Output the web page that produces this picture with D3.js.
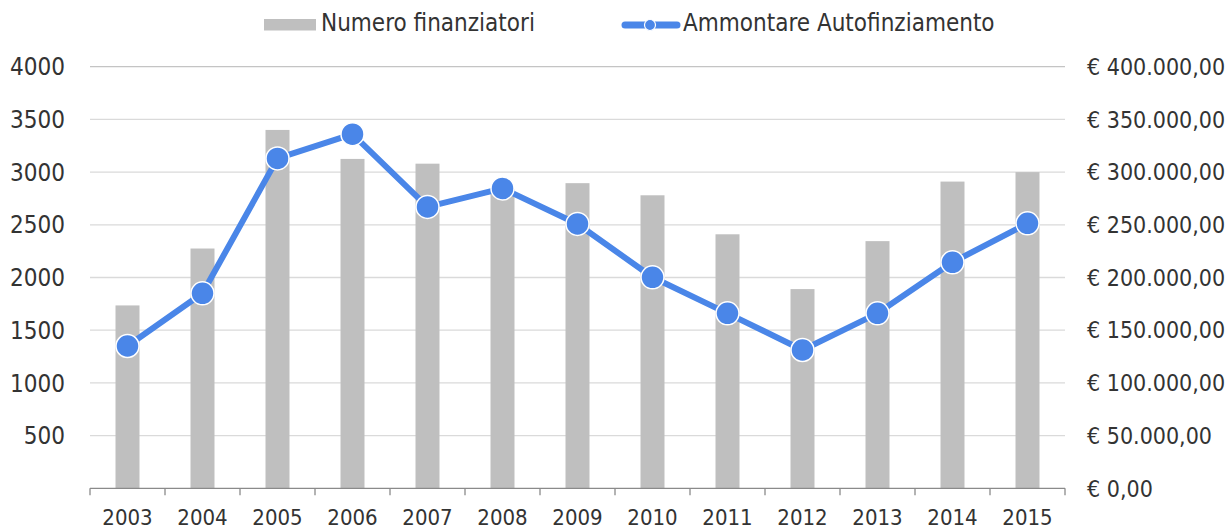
<!DOCTYPE html>
<html>
<head>
<meta charset="utf-8">
<script src="https://cdn.jsdelivr.net/npm/d3@7"></script>
<style>
  body { margin: 0; background: #fff; }
  svg text { font-family: "DejaVu Sans Condensed", "DejaVu Sans", sans-serif; font-stretch: condensed; fill: #333; }
</style>
</head>
<body>
<div id="chart"></div>
<script>
// data
const anni = ["2003", "2004", "2005", "2006", "2007", "2008", "2009", "2010", "2011", "2012", "2013", "2014", "2015"];
const finanziatori = [1735, 2275, 3400, 3125, 3080, 2840, 2895, 2780, 2410, 1890, 2345, 2910, 3000];
const autofinanziamento = [135000, 185000, 313000, 336000, 267000, 284500, 250800, 200200, 166000, 131200, 166000, 214400, 251400];
const leftTicks = [500, 1000, 1500, 2000, 2500, 3000, 3500, 4000];
const rightTicks = [0, 50000, 100000, 150000, 200000, 250000, 300000, 350000, 400000];

const W = 1226, H = 528;
const plotL = 90, plotR = 1065, plotT = 66.7, plotB = 488.3;

const svg = d3.select("#chart").append("svg")
    .attr("width", W)
    .attr("height", H);

const x = d3.scaleBand().domain(anni).range([plotL, plotR]).padding(0);
const yL = d3.scaleLinear().domain([0, 4000]).range([plotB, plotT]);
const yR = d3.scaleLinear().domain([0, 400000]).range([plotB, plotT]);

// euro format, italian style
const eur = d3.formatLocale({decimal: ",", thousands: ".", grouping: [3], currency: ["€ ", ""]}).format("$,.2f");

// gridlines
svg.append("g")
    .selectAll("line")
    .data(leftTicks)
    .join("line")
    .attr("x1", plotL)
    .attr("x2", plotR)
    .attr("y1", d => yL(d))
    .attr("y2", d => yL(d))
    .attr("stroke", d => d === 4000 ? "#c4c4c4" : "#dadada")
    .attr("stroke-width", 1.3);

// bars
const bw = 24;
svg.append("g")
    .selectAll("rect")
    .data(anni)
    .join("rect")
    .attr("x", d => x(d) + x.bandwidth() / 2 - bw / 2)
    .attr("y", (d, i) => yL(finanziatori[i]))
    .attr("width", bw)
    .attr("height", (d, i) => plotB - yL(finanziatori[i]))
    .attr("fill", "#bfbfbf");

// x axis
const xAxis = svg.append("g").attr("transform", "translate(0," + plotB + ")");
xAxis.append("line")
    .attr("x1", plotL).attr("x2", plotR)
    .attr("stroke", "#8a8a8a").attr("stroke-width", 1.3);
xAxis.selectAll(".tk")
    .data(anni.concat(["end"]))
    .join("line")
    .attr("class", "tk")
    .attr("x1", d => d === "end" ? plotR : x(d))
    .attr("x2", d => d === "end" ? plotR : x(d))
    .attr("y1", 0).attr("y2", 7)
    .attr("stroke", "#8a8a8a").attr("stroke-width", 1.3);
xAxis.selectAll("text")
    .data(anni)
    .join("text")
    .attr("x", d => x(d) + x.bandwidth() / 2)
    .attr("y", 37)
    .attr("text-anchor", "middle")
    .attr("font-size", 22)
    .text(d => d);

// left labels
svg.append("g")
    .selectAll("text")
    .data(leftTicks)
    .join("text")
    .attr("x", 65)
    .attr("y", d => yL(d))
    .attr("dy", "0.36em")
    .attr("text-anchor", "end")
    .attr("font-size", 24)
    .text(d => d);

// right labels
svg.append("g")
    .selectAll("text")
    .data(rightTicks)
    .join("text")
    .attr("x", 1087)
    .attr("y", d => yR(d))
    .attr("dy", "0.36em")
    .attr("text-anchor", "start")
    .attr("font-size", 23)
    .text(d => eur(d));

// line + markers
const line = d3.line()
    .x((d, i) => x(anni[i]) + x.bandwidth() / 2)
    .y(d => yR(d));

svg.append("path")
    .datum(autofinanziamento)
    .attr("d", line)
    .attr("fill", "none")
    .attr("stroke", "#4a86e8")
    .attr("stroke-width", 6)
    .attr("stroke-linejoin", "round");

svg.append("g")
    .selectAll("circle")
    .data(autofinanziamento)
    .join("circle")
    .attr("cx", (d, i) => x(anni[i]) + x.bandwidth() / 2)
    .attr("cy", d => yR(d))
    .attr("r", 11.5)
    .attr("fill", "#4a86e8")
    .attr("stroke", "#fff")
    .attr("stroke-width", 1.5);

// legend
const leg = svg.append("g");
leg.append("rect")
    .attr("x", 264).attr("y", 19)
    .attr("width", 52).attr("height", 11.5)
    .attr("fill", "#bfbfbf");
leg.append("text")
    .attr("x", 321).attr("y", 31)
    .attr("font-size", 24)
    .text("Numero finanziatori");

leg.append("line")
    .attr("x1", 625).attr("x2", 677)
    .attr("y1", 25).attr("y2", 25)
    .attr("stroke", "#4a86e8")
    .attr("stroke-width", 7)
    .attr("stroke-linecap", "round");
leg.append("circle")
    .attr("cx", 650).attr("cy", 25)
    .attr("r", 5.5)
    .attr("fill", "#4a86e8")
    .attr("stroke", "#fff")
    .attr("stroke-width", 1.2);
leg.append("text")
    .attr("x", 683).attr("y", 31)
    .attr("font-size", 24)
    .text("Ammontare Autofinziamento");
</script>
</body>
</html>
